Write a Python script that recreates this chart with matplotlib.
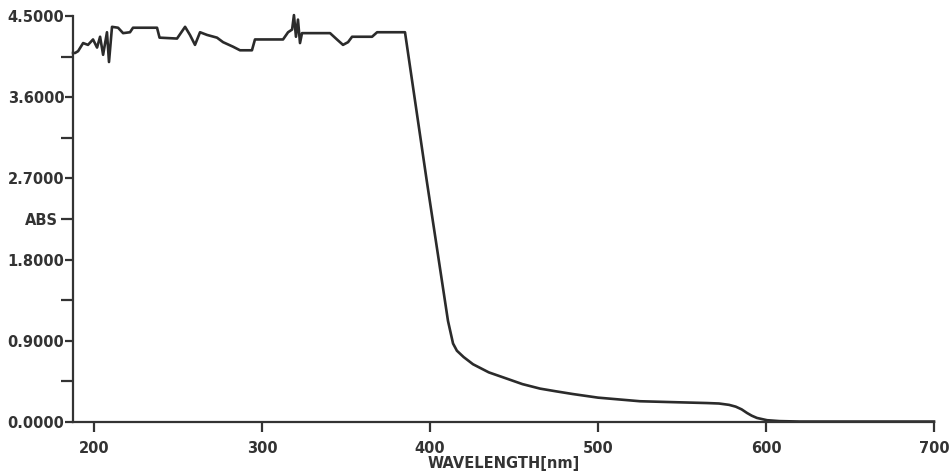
import matplotlib
matplotlib.use("Agg")
import matplotlib.pyplot as plt
from matplotlib.ticker import FixedLocator, FixedFormatter

# absorbance spectrum
wavelength = [187.5, 188.7, 190.5, 193.5, 196.4, 199.4, 201.8, 203.6, 205.4, 207.7,
              208.9, 210.7, 214.3, 217.3, 221.4, 223.2, 237.5, 239.0, 249.4, 254.2,
              257.1, 260.1, 263.1, 267.3, 273.2, 276.8, 282.7, 286.9, 294.0, 295.8,
              312.5, 315.5, 317.9, 319.0, 320.2, 321.4, 322.6, 323.8, 340.5, 344.6,
              348.2, 351.2, 353.6, 365.5, 368.5, 385.1, 398.0, 410.7, 413.7, 416.0,
              420.0, 425.6, 435.0, 445.8, 455.0, 465.5, 475.0, 485.0, 500.0, 525.0,
              544.6, 565.0, 572.0, 578.0, 582.0, 585.5, 588.7, 591.5, 594.6, 600.6,
              608.0, 620.0, 650.0, 700.0]
absorb = [4.09, 4.09, 4.11, 4.20, 4.18, 4.24, 4.15, 4.27, 4.07, 4.32,
          3.99, 4.38, 4.37, 4.31, 4.32, 4.37, 4.37, 4.26, 4.25, 4.38,
          4.29, 4.18, 4.32, 4.29, 4.26, 4.21, 4.16, 4.12, 4.12, 4.24,
          4.24, 4.32, 4.35, 4.51, 4.27, 4.46, 4.20, 4.31, 4.31, 4.24,
          4.18, 4.21, 4.27, 4.27, 4.32, 4.32, 2.68, 1.12, 0.87, 0.79,
          0.72, 0.64, 0.55, 0.48, 0.42, 0.37, 0.34, 0.31, 0.27, 0.23,
          0.22, 0.21, 0.205, 0.19, 0.17, 0.14, 0.10, 0.07, 0.045, 0.02,
          0.01, 0.005, 0.005, 0.005]

x_ticks = [200, 300, 400, 500, 600, 700]
y_ticks = [0.0, 0.9, 1.8, 2.7, 3.6, 4.5]
y_labels = ["0.0000", "0.9000", "1.8000", "2.7000", "3.6000", "4.5000"]
y_minor = [0.45, 1.35, 2.25, 3.15, 4.05]
y_minor_labels = ["", "", "ABS", "", ""]

ink = "#333333"
plt.rcParams["font.family"] = ["DejaVu Sans"]
plt.rcParams["font.weight"] = "bold"

fig = plt.figure(figsize=(9.53, 4.72), dpi=100)
ax = fig.add_axes([72.7 / 953, 1 - 422 / 472, (934 - 72.7) / 953, 406 / 472])

ax.plot(wavelength, absorb, color="#2b2b2b", lw=1.9, clip_on=False,
        solid_joinstyle="round")

ax.set_xlim(187.3, 700)
ax.set_ylim(0, 4.5)

for side in ("top", "right"):
    ax.spines[side].set_visible(False)
for side in ("left", "bottom"):
    ax.spines[side].set_color(ink)
    ax.spines[side].set_linewidth(1.6)

ax.set_xticks(x_ticks)
ax.set_xticklabels([str(v) for v in x_ticks])
ax.set_yticks(y_ticks)
ax.set_yticklabels(y_labels)
ax.yaxis.set_minor_locator(FixedLocator(y_minor))
ax.yaxis.set_minor_formatter(FixedFormatter(y_minor_labels))

ax.tick_params(axis="x", direction="out", length=7.5, width=1.6, color=ink,
               labelsize=10.5, labelcolor=ink, pad=6)
ax.tick_params(axis="y", which="major", direction="out", length=6, width=1.6,
               color=ink, labelsize=10.5, labelcolor=ink, pad=0)
ax.tick_params(axis="y", which="minor", direction="out", length=9, width=1.6,
               color=ink, labelsize=10.5, labelcolor=ink, pad=2)

ax.set_xlabel("WAVELENGTH[nm]", fontsize=10.5, fontweight="bold", color=ink,
              va="center")
ax.xaxis.set_label_coords(0.5, -0.103)

fig.savefig("out.png", dpi=100)
